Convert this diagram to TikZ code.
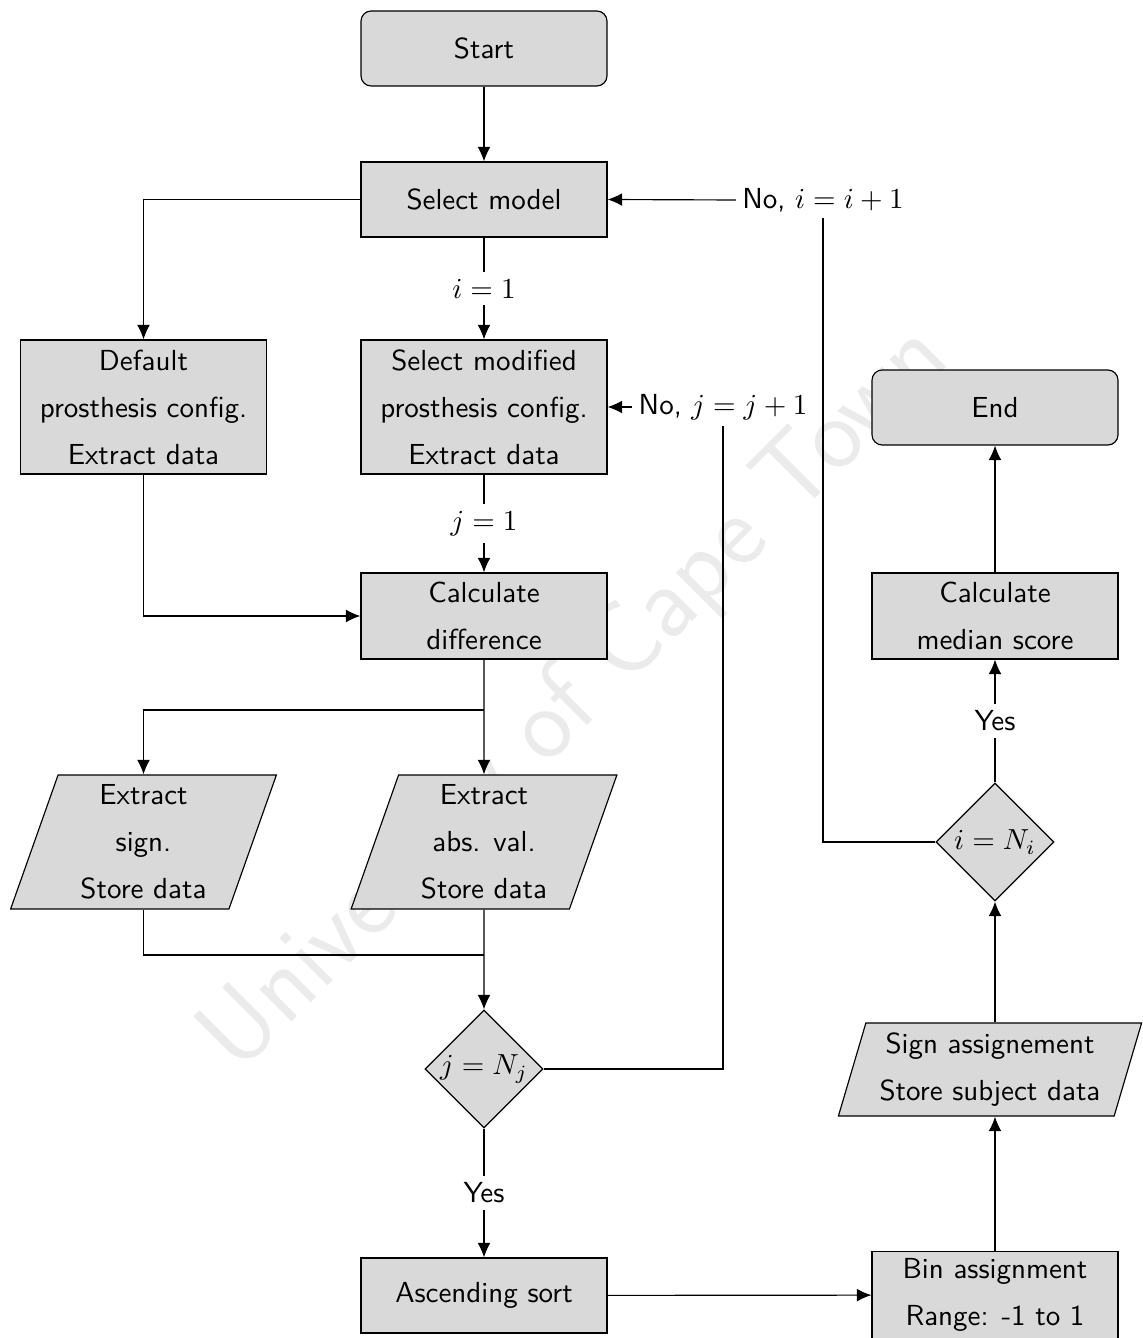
\documentclass[tikz,border=0pt]{standalone}
\usetikzlibrary{shapes.geometric,arrows.meta}
\begin{document}
\begin{tikzpicture}[x=0.34483pt,y=-0.34483pt,
  base/.style={draw, fill=gray!30, font=\fontsize{10}{16.2}\selectfont\sffamily,
    align=center, inner xsep=2pt, inner ysep=1.8pt},
  proc/.style={base, rectangle, minimum width=84.83pt, minimum height=25.86pt},
  twoline/.style={minimum height=29.66pt},
  threeline/.style={minimum height=46.2pt},
  term/.style={proc, rounded corners=3.5pt},
  io/.style={base, trapezium, trapezium left angle=73, trapezium right angle=107,
    trapezium stretches=true},
  dec/.style={base, diamond, aspect=1, inner sep=0pt, minimum size=40.7pt},
  arr/.style={-{Latex[length=5pt,width=4.4pt]}},
  lbl/.style={fill=white, font=\fontsize{10}{12}\selectfont\sffamily, inner sep=2.5pt},
  note/.style={font=\fontsize{10}{12}\selectfont\sffamily, inner sep=2pt},
]
\useasboundingbox (0,0) rectangle (1142,1338);

% watermark
\node[font=\fontsize{36}{36}\selectfont\sffamily, text=gray!16, rotate=45]
  (wm) at (577,700) {University of Cape Town};

% process nodes
\node[term] (start) at (484,48.5) {Start};
\node[proc] (selmodel) at (484,199.5) {Select model};
\node[proc, threeline] (default) at (143.5,407) {Default\\prosthesis config.\\Extract data};
\node[proc, threeline] (selmod) at (484,407) {Select modified\\prosthesis config.\\Extract data};
\node[term] (endn) at (995,407.5) {End};
\node[proc, twoline] (calc) at (484,616) {Calculate\\difference};
\node[proc, twoline] (median) at (995,616) {Calculate\\median score};
\node[io, minimum width=92pt, minimum height=46.2pt] (sign) at (143.5,842) {Extract\\sign.\\Store data};
\node[io, minimum width=92pt, minimum height=46.2pt] (absval) at (484,842) {Extract\\abs. val.\\Store data};
\node[dec] (dI) at (995,842) {$i=N_i$};
\node[dec] (dJ) at (484,1069) {$j=N_j$};
\node[io, minimum width=104.8pt, minimum height=32.1pt] (signas) at (990,1069.5) {Sign assignement\\Store subject data};
\node[proc] (sortn) at (484,1295.5) {Ascending sort};
\node[proc, twoline, minimum height=30.3pt] (bin) at (995,1295) {Bin assignment\\Range: -1 to 1};

% loop labels
\node[note] (noi) at (823,200) {No, $i=i+1$};
\node[note] (noj) at (723,407) {No, $j=j+1$};

% connectors
\draw[arr] (start) -- (selmodel);
\draw[arr] (selmodel.west) -| (default.north);
\draw[arr] (selmodel) -- node[lbl]{$i=1$} (selmod);
\draw[arr] (selmod) -- node[lbl]{$j=1$} (calc);
\draw[arr] (default.south) |- (calc.west);
\draw[arr] (calc) -- (absval);
\coordinate (fork) at (484,710);
\draw[arr] (fork) -| (sign.north);
\draw[arr] (absval) -- (dJ);
\coordinate (merge) at (484,955);
\draw (sign.south) |- (merge);
\draw (dJ.east) -| (noj.south);
\draw[arr] (noj.west) -- (selmod.east);
\draw[arr] (dJ) -- node[lbl]{Yes} (sortn);
\draw[arr] (sortn) -- (bin);
\draw[arr] (bin.north) -- (bin.north |- signas.south);
\draw[arr] (signas.north -| dI.south) -- (dI.south);
\draw[arr] (dI) -- node[lbl]{Yes} (median);
\draw[arr] (median) -- (endn);
\draw (dI.west) -| (noi.south);
\draw[arr] (noi.west) -- (selmodel.east);
\end{tikzpicture}
\end{document}
